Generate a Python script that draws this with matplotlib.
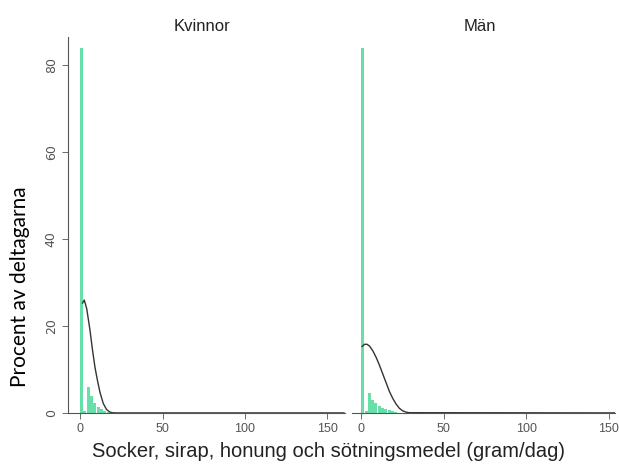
import numpy as np
import matplotlib.pyplot as plt

# histogram (bin width 2 g/dag) och utjämnad kurva, procent av deltagarna
bin_left = [0, 2, 4, 6, 8, 10, 12, 14, 16, 18, 20]
kvinnor_pct = [84.0, 0.4, 6.0, 3.8, 2.2, 1.3, 0.8, 0.4, 0.3, 0.2, 0.1]
man_pct = [84.0, 0.5, 4.5, 3.0, 2.2, 1.6, 1.1, 0.8, 0.6, 0.4, 0.3]

kvinnor_kx = [1.5, 2.5, 4, 6, 7.5, 9, 10.5, 12, 14, 16, 18, 20, 160]
kvinnor_ky = [25.3, 26.0, 24.0, 19.0, 14.5, 10.5, 7.5, 4.8, 2.2, 0.8, 0.2, 0.0, 0.0]
man_kx = [0.5, 2, 3.5, 5, 7, 9, 11, 13, 15, 17, 19, 21, 23, 25, 27, 29, 160]
man_ky = [15.3, 15.8, 15.8, 15.4, 14.3, 12.8, 11.0, 9.0, 7.0, 5.0, 3.4,
          2.1, 1.1, 0.5, 0.2, 0.05, 0.0]

titles = ['Kvinnor', 'Män']
x_ticks = [0, 50, 100, 150]
y_ticks = [0, 20, 40, 60, 80]

bar_col = '#66e0a8'
grey = '#555555'

fig = plt.figure(figsize=(6.19, 4.65), dpi=100)
ax1 = fig.add_axes([0.110, 0.112, 0.447, 0.808])
ax2 = fig.add_axes([0.569, 0.112, 0.425, 0.808])

panels = [(ax1, kvinnor_pct, kvinnor_kx, kvinnor_ky, (-7.3, 160.5)),
          (ax2, man_pct, man_kx, man_ky, (-5.5, 154))]

for i, (ax, pct, kx, ky, xl) in enumerate(panels):
    ax.bar(bin_left, pct, width=1.8, align='edge', color=bar_col,
           edgecolor='none')
    ax.plot(kx, ky, color='#333333', lw=1.0)
    ax.set_xlim(*xl)
    ax.set_ylim(0, 86.5)
    ax.set_xticks(x_ticks)
    ax.set_yticks(y_ticks)
    for s in ['top', 'right']:
        ax.spines[s].set_visible(False)
    ax.spines['bottom'].set_color(grey)
    ax.spines['left'].set_color(grey)
    ax.tick_params(colors=grey, labelsize=9, length=4, width=0.6)
    for lab in ax.get_xticklabels():
        lab.set_family('Liberation Sans')
    if i == 0:
        plt.setp(ax.get_yticklabels(), rotation=90, va='center')
    else:
        ax.spines['left'].set_visible(False)
        ax.tick_params(axis='y', left=False, labelleft=False)

fig.text(0.327, 0.944, titles[0], ha='center', va='center', fontsize=12,
         color='#222222', family='Liberation Sans')
fig.text(0.776, 0.944, titles[1], ha='center', va='center', fontsize=12,
         color='#222222', family='Liberation Sans')

fig.text(0.033, 0.383, 'Procent av deltagarna', rotation=90, ha='center',
         va='center', fontsize=15, family='Lato', color='black')

fig.text(0.53, 0.017, 'Socker, sirap, honung och sötningsmedel (gram/dag)',
         ha='center', fontsize=14.5, family='Liberation Sans', color='#222222')

fig.savefig('out.png', dpi=100)
